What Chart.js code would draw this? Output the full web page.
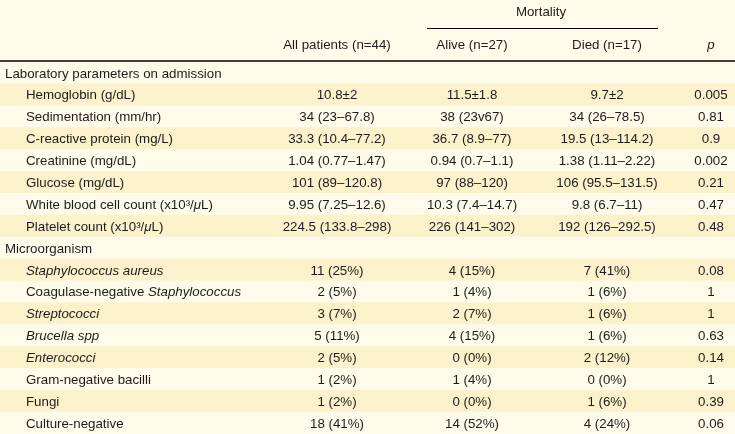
<!DOCTYPE html>
<html>
<head>
<meta charset="utf-8">
<script src="https://cdn.jsdelivr.net/npm/chart.js@4/dist/chart.umd.min.js"></script>
<style>
  html, body { margin: 0; padding: 0; background: #fffbea; }
  #wrap { position: relative; width: 735px; height: 434px; }
</style>
</head>
<body>
<div id="wrap"><canvas id="c"></canvas></div>
<script>
// ---- data ----
const rowLabels = [
  "Laboratory parameters on admission",
  "Hemoglobin (g/dL)",
  "Sedimentation (mm/hr)",
  "C-reactive protein (mg/L)",
  "Creatinine (mg/dL)",
  "Glucose (mg/dL)",
  "White blood cell count (x10³/_μ_L)",
  "Platelet count (x10³/_μ_L)",
  "Microorganism",
  "_Staphylococcus aureus_",
  "Coagulase-negative _Staphylococcus_",
  "_Streptococci_",
  "_Brucella spp_",
  "_Enterococci_",
  "Gram-negative bacilli",
  "Fungi",
  "Culture-negative"
];
const sectionRows = [0, 8];
const allPatients = ["", "10.8±2", "34 (23–67.8)", "33.3 (10.4–77.2)", "1.04 (0.77–1.47)", "101 (89–120.8)", "9.95 (7.25–12.6)", "224.5 (133.8–298)", "", "11 (25%)", "2 (5%)", "3 (7%)", "5 (11%)", "2 (5%)", "1 (2%)", "1 (2%)", "18 (41%)"];
const alive = ["", "11.5±1.8", "38 (23v67)", "36.7 (8.9–77)", "0.94 (0.7–1.1)", "97 (88–120)", "10.3 (7.4–14.7)", "226 (141–302)", "", "4 (15%)", "1 (4%)", "2 (7%)", "4 (15%)", "0 (0%)", "1 (4%)", "0 (0%)", "14 (52%)"];
const died = ["", "9.7±2", "34 (26–78.5)", "19.5 (13–114.2)", "1.38 (1.11–2.22)", "106 (95.5–131.5)", "9.8 (6.7–11)", "192 (126–292.5)", "", "7 (41%)", "1 (6%)", "1 (6%)", "1 (6%)", "2 (12%)", "0 (0%)", "1 (6%)", "4 (24%)"];
const pValues = ["", "0.005", "0.81", "0.9", "0.002", "0.21", "0.47", "0.48", "", "0.08", "1", "1", "0.63", "0.14", "1", "0.39", "0.06"];
const columnHeaders = ["All patients (n=44)", "Alive (n=27)", "Died (n=17)", "_p_"];
const groupHeader = "Mortality";

// ---- layout / style (not data) ----
const W = 735;
const colCenters = [337, 472, 607, 711];
const FONT = "Liberation Sans, Arial, Helvetica, sans-serif";
const FS = 13.3;
const TEXT = "#1c1c1c";
const LIGHT = "#fffbea";
const DARK = "#fbf1ca";

function drawRich(ctx, text, x, y, align) {
  const parts = text.split("_");
  const segs = parts.map((t, i) => ({ t, it: i % 2 === 1 }));
  let total = 0;
  segs.forEach(s => { ctx.font = (s.it ? "italic " : "") + FS + "px " + FONT; s.w = ctx.measureText(s.t).width; total += s.w; });
  let cx = align === "center" ? x - total / 2 : x;
  ctx.textAlign = "left";
  segs.forEach(s => {
    ctx.font = (s.it ? "italic " : "") + FS + "px " + FONT;
    ctx.fillText(s.t, cx, y);
    cx += s.w;
  });
}

const tablePlugin = {
  id: "tableText",
  afterDatasetsDraw(chart) {
    const ctx = chart.ctx;
    const ys = chart.scales.y, xs = chart.scales.x;
    ctx.save();
    ctx.fillStyle = TEXT;
    ctx.textBaseline = "middle";
    // header
    drawRich(ctx, groupHeader, xs.getPixelForValue(541), 12, "center");
    columnHeaders.forEach((h, j) => drawRich(ctx, h, xs.getPixelForValue(colCenters[j]), 45, "center"));
    ctx.strokeStyle = "#000";
    ctx.lineWidth = 1.2;
    ctx.beginPath(); ctx.moveTo(427, 28.5); ctx.lineTo(658, 28.5); ctx.stroke();
    ctx.lineWidth = 1.5;
    ctx.beginPath(); ctx.moveTo(0, 61); ctx.lineTo(W, 61); ctx.stroke();
    // rows
    rowLabels.forEach((lab, i) => {
      const y = ys.getPixelForValue(i) + 1;
      const indent = sectionRows.includes(i) ? 5 : 26;
      drawRich(ctx, lab, indent, y, "left");
      [allPatients, alive, died, pValues].forEach((arr, j) => {
        if (arr[i]) drawRich(ctx, arr[i], xs.getPixelForValue(colCenters[j]), y, "center");
      });
    });
    ctx.restore();
  }
};

new Chart(document.getElementById("c"), {
  type: "bar",
  data: {
    labels: rowLabels,
    datasets: [{
      data: rowLabels.map(() => W),
      backgroundColor: rowLabels.map((_, i) => (i % 2 === 1 ? DARK : LIGHT)),
      borderWidth: 0,
      barPercentage: 1,
      categoryPercentage: 1
    }]
  },
  options: {
    indexAxis: "y",
    responsive: true,
    maintainAspectRatio: false,
    animation: false,
    layout: { padding: { top: 62, left: 0, right: 0, bottom: 0 } },
    plugins: { legend: { display: false }, tooltip: { enabled: false } },
    scales: {
      x: { type: "linear", min: 0, max: W, display: false },
      y: { type: "category", display: false, offset: true, grid: { display: false } }
    }
  },
  plugins: [tablePlugin]
});
</script>
</body>
</html>
